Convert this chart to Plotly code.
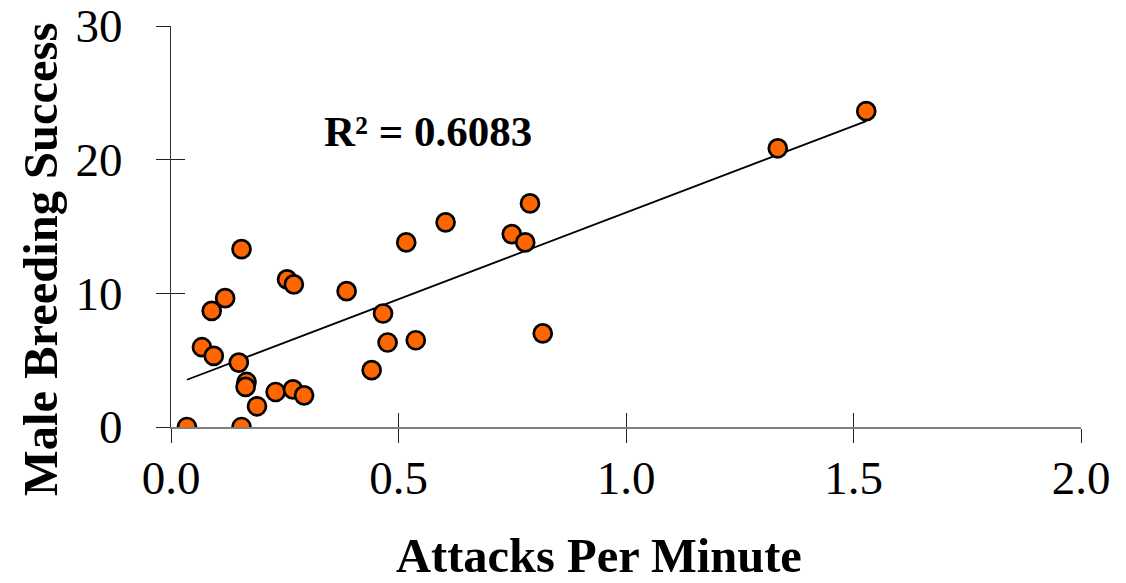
import numpy as np
import plotly.graph_objects as go

# Attack rate (attacks per minute) and male breeding success for each male
attacks_per_min = [0.035, 0.155, 0.068, 0.094, 0.0895, 0.119, 0.155, 0.149, 0.166, 0.164,
                   0.189, 0.230, 0.268, 0.2925, 0.255, 0.270, 0.386, 0.441, 0.466, 0.476,
                   0.517, 0.538, 0.6035, 0.749, 0.7785, 0.789, 0.817, 1.3336, 1.528]
breeding_success = [0.0, 0.0, 5.97, 5.32, 8.69, 9.64, 13.31, 4.82, 3.37, 3.0,
                    1.55, 2.62, 2.82, 2.37, 11.04, 10.67, 10.16, 4.25, 8.49, 6.32,
                    13.81, 6.49, 15.31, 14.43, 13.81, 16.73, 7.0, 20.85, 23.63]

x_ticks = [0.0, 0.5, 1.0, 1.5, 2.0]
x_tick_text = ["0.0", "0.5", "1.0", "1.5", "2.0"]
y_ticks = [0, 10, 20, 30]
r2_label = "R² = 0.6083"

# Least-squares trend line across the observed range
xa = np.array(attacks_per_min)
ya = np.array(breeding_success)
slope, intercept = np.polyfit(xa, ya, 1)
trend_x = [xa.min(), xa.max()]
trend_y = [slope * v + intercept for v in trend_x]

FONT = "Liberation Serif, Times New Roman, serif"
L, R, T, B = 171, 45, 26, 156
PW, PH = 1126 - L - R, 583 - T - B


def px_x(p):
    return (p - L) / PW


def px_y(p):
    return (583 - B - p) / PH


fig = go.Figure()
fig.add_trace(go.Scatter(
    x=trend_x, y=trend_y, mode="lines",
    line=dict(color="black", width=1.8), hoverinfo="skip", showlegend=False,
))
fig.add_trace(go.Scatter(
    x=attacks_per_min, y=breeding_success, mode="markers",
    marker=dict(size=18, color="#FF6600", line=dict(color="black", width=2.7)),
    showlegend=False,
))
# empty trace so the inside-tick axes are rendered
fig.add_trace(go.Scatter(x=[], y=[], xaxis="x2", yaxis="y2", showlegend=False))

fig.update_layout(
    width=1126, height=583,
    margin=dict(l=L, r=R, t=T, b=B, autoexpand=False),
    paper_bgcolor="white", plot_bgcolor="white",
    font=dict(family=FONT, color="black"),
    xaxis=dict(
        range=[0, 2], tickvals=x_ticks, ticktext=x_tick_text,
        ticks="outside", ticklen=14, tickwidth=1, tickcolor="#222",
        showline=True, linecolor="#808080", linewidth=2,
        showgrid=False, zeroline=False, layer="below traces", automargin=False,
        tickfont=dict(size=47, family=FONT, color="black"),
        ticklabelstandoff=-5,
    ),
    yaxis=dict(
        range=[0, 30], tickvals=y_ticks,
        ticks="outside", ticklen=14, tickwidth=1, tickcolor="#222",
        showline=True, linecolor="#333", linewidth=1,
        showgrid=False, zeroline=False, layer="below traces", automargin=False,
        tickfont=dict(size=47, family=FONT, color="black"),
        ticklabelstandoff=24,
    ),
    xaxis2=dict(
        range=[0, 2], tickvals=x_ticks, overlaying="x", anchor="y2", side="bottom",
        ticks="inside", ticklen=14, tickwidth=1, tickcolor="#222", automargin=False,
        showticklabels=False, showline=False, showgrid=False, zeroline=False,
    ),
    yaxis2=dict(
        range=[0, 30], tickvals=y_ticks, overlaying="y", anchor="x2", side="left",
        ticks="inside", ticklen=14, tickwidth=1, tickcolor="#222", automargin=False,
        showticklabels=False, showline=False, showgrid=False, zeroline=False,
    ),
    annotations=[
        dict(text="<b>Attacks Per Minute</b>", xref="paper", yref="paper",
             x=px_x(599), y=px_y(583), xanchor="center", yanchor="bottom",
             borderpad=0, showarrow=False,
             font=dict(size=48.5, family=FONT, color="black")),
        dict(text="<b>Male Breeding Success</b>", xref="paper", yref="paper",
             x=px_x(40), y=px_y(260), xanchor="center", yanchor="middle",
             textangle=-90, showarrow=False, font=dict(size=48.5, family=FONT, color="black")),
        dict(text=f"<b>{r2_label}</b>", xref="paper", yref="paper",
             x=px_x(428), y=px_y(131), xanchor="center", yanchor="middle",
             showarrow=False, font=dict(size=43, family=FONT, color="black")),
    ],
)

fig.write_html("out.html")
